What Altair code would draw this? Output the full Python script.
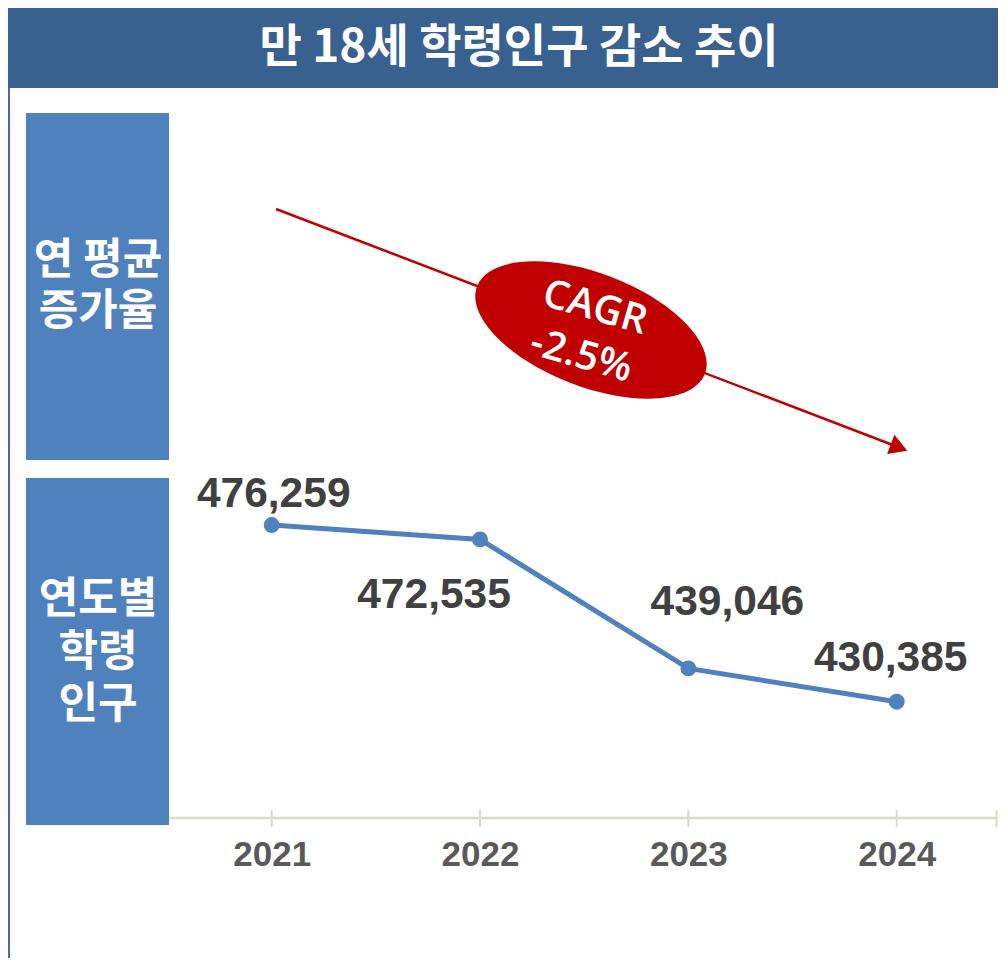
import altair as alt
import pandas as pd

# ---- data ----
years = [2021, 2022, 2023, 2024]
population = [476259, 472535, 439046, 430385]
title_text = "만 18세 학령인구 감소 추이"
box1_lines = ["연 평균", "증가율"]
box2_lines = ["연도별", "학령", "인구"]
cagr_lines = ["CAGR", "-2.5%"]

df = pd.DataFrame({"year": years, "pop": population})
one = pd.DataFrame({"k": [0]})

W, H = 990, 810
BLUE = "#4F81BD"
RED = "#C00000"

x_enc = alt.X(
    "year:Q",
    scale=alt.Scale(domain=[2019.7342, 2019.7342 + W / 208.33], nice=False, zero=False),
    axis=alt.Axis(
        values=years, format="d", title=None, grid=False, domain=False,
        ticks=False, tickSize=0, labelPadding=19, labelFlush=False,
        labelFont="Liberation Sans, Arial",
        labelFontSize=35, labelFontWeight="bold", labelColor="#595959",
    ),
)
y_enc = alt.Y(
    "pop:Q",
    scale=alt.Scale(domain=[400200, 610500], nice=False, zero=False),
    axis=None,
)

base = alt.Chart(df)

# decorative frame
title_bar = alt.Chart(one).mark_rect(color="#386190").encode(
    x=alt.value(0), x2=alt.value(W), y=alt.value(0), y2=alt.value(80)
)
title = alt.Chart(one).mark_text(
    text=title_text, font="Noto Sans CJK KR", fontWeight="bold", fontSize=46,
    color="white", align="center", baseline="middle",
).encode(x=alt.value(511), y=alt.value(40))
left_border = alt.Chart(one).mark_rule(color="#4A6A94", strokeWidth=2).encode(
    x=alt.value(1), y=alt.value(80), y2=alt.value(960)
)
box1 = alt.Chart(one).mark_rect(color=BLUE).encode(
    x=alt.value(18), x2=alt.value(161), y=alt.value(105), y2=alt.value(452)
)
box2 = alt.Chart(one).mark_rect(color=BLUE).encode(
    x=alt.value(18), x2=alt.value(161), y=alt.value(470), y2=alt.value(817)
)
box1_text = alt.Chart(one).mark_text(
    text=box1_lines, font="Noto Sans CJK KR", fontWeight="bold", fontSize=43,
    color="white", align="center", baseline="middle", lineHeight=51,
).encode(x=alt.value(90), y=alt.value(253))
box2_text = alt.Chart(one).mark_text(
    text=box2_lines, font="Noto Sans CJK KR", fontWeight="bold", fontSize=43,
    color="white", align="center", baseline="middle", lineHeight=52.5,
).encode(x=alt.value(90), y=alt.value(592))

# CAGR arrow + ellipse
arrow_line = alt.Chart(one).mark_rule(color=RED, strokeWidth=2.5).encode(
    x=alt.value(268), y=alt.value(201), x2=alt.value(890), y2=alt.value(439)
)
arrow_head = alt.Chart(one).mark_point(
    shape="triangle-right", filled=True, color=RED, opacity=1, size=420, angle=21
).encode(x=alt.value(891), y=alt.value(439.5))
ellipse = alt.Chart(one).mark_point(
    shape="M -1 0 A 1 0.465 0 1 1 1 0 A 1 0.465 0 1 1 -1 0 Z",
    filled=True, color=RED, opacity=1, size=59536, angle=21,
).encode(x=alt.value(583), y=alt.value(322))
cagr_text = alt.Chart(one).mark_text(
    text=cagr_lines, font="Open Sans", fontWeight=600, fontSize=40,
    color="white", align="center", baseline="middle", lineHeight=50, angle=16,
).encode(x=alt.value(587), y=alt.value(300))

# axis line and ticks
axis_line = alt.Chart(one).mark_rule(color="#DDD9C3", strokeWidth=2.5).encode(
    x=alt.value(161), x2=alt.value(989), y=alt.value(810)
)
tick_marks = base.mark_rule(color="#DDD9C3", strokeWidth=2).encode(
    x=x_enc, y=alt.value(802), y2=alt.value(819)
)
end_tick = alt.Chart(one).mark_rule(color="#DDD9C3", strokeWidth=2).encode(
    x=alt.value(988.5), y=alt.value(802), y2=alt.value(819)
)

# data line
line = base.mark_line(color=BLUE, strokeWidth=5).encode(x=x_enc, y=y_enc)
points = base.mark_circle(color=BLUE, size=254, opacity=1).encode(x=x_enc, y=y_enc)

label_offsets = {2021: (2, -31), 2022: (-46, 56), 2023: (39, -66), 2024: (-6, -44)}
labels = []
for yr, (ddx, ddy) in label_offsets.items():
    labels.append(
        base.transform_filter(alt.datum.year == yr).mark_text(
            font="Liberation Sans", fontWeight="bold", fontSize=42.5, color="#404040",
            align="center", baseline="middle", dx=ddx, dy=ddy,
        ).encode(x=x_enc, y=y_enc, text=alt.Text("pop:Q", format=",d"))
    )

chart = alt.layer(
    title_bar, title, left_border, box1, box2, box1_text, box2_text,
    arrow_line, arrow_head, ellipse, cagr_text,
    axis_line, tick_marks, end_tick,
    line, points, *labels,
).properties(
    width=W, height=H, autosize="none",
    padding={"left": 0, "top": 0, "right": 0, "bottom": 140},
    background="white",
).configure_view(stroke=None)

chart.save("out.html", embed_options={"renderer": "svg", "actions": False})
